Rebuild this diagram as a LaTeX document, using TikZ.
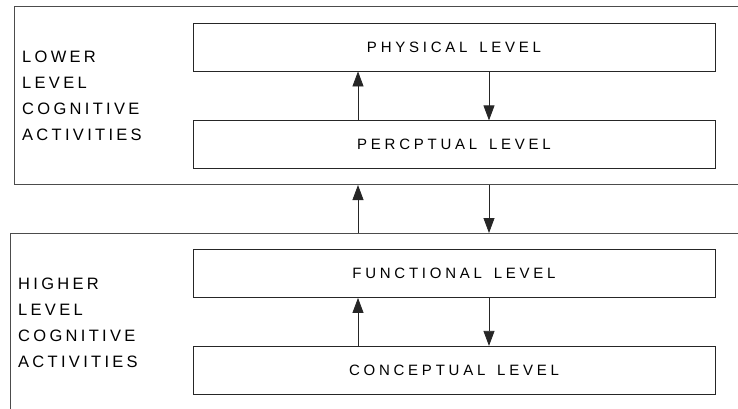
\documentclass[tikz,border=0pt]{standalone}
\usepackage{fontspec}
\newfontfamily\levelfont[LetterSpace=25, WordSpace=1.5]{Liberation Sans}
\newfontfamily\sidefont[LetterSpace=20]{Liberation Sans}
\usetikzlibrary{arrows.meta, positioning}

\begin{document}
\begin{tikzpicture}[
    x=1pt, y=-1pt,
    level/.style={draw=black!85, line width=0.8pt, minimum width=522pt, minimum height=48pt,
                  inner sep=0pt, text=black, font=\levelfont\fontsize{15}{26}\selectfont},
    group/.style={draw=black!70, line width=1pt, anchor=north west, minimum width=800pt,
                  inner sep=0pt},
    side/.style={anchor=west, align=left, inner sep=0pt, text=black,
                 font=\sidefont\fontsize{16.5}{26}\selectfont},
    arrow/.style={-{Triangle[length=15pt,width=11pt]}, line width=0.8pt, draw=black!85}
]
\useasboundingbox (0,0) rectangle (738,408);
\clip (0,0) rectangle (738,408);
\node[group, minimum height=178pt] (lower) at (14,6) {};
\node[group, minimum height=200pt] (higher) at (10,233) {};
\node[level] (physical) at (454,47) {PHYSICAL LEVEL};
\node[level, below=49pt of physical] (perceptual) {PERCPTUAL LEVEL};
\node[level] (functional) at (454,273.5) {FUNCTIONAL LEVEL};
\node[level, below=48pt of functional] (conceptual) {CONCEPTUAL LEVEL};
\node[side] (lowerlbl) at (22,96) {LOWER\\LEVEL\\COGNITIVE\\ACTIVITIES};
\node[side] (higherlbl) at (18,323) {HIGHER\\LEVEL\\COGNITIVE\\ACTIVITIES};
\coordinate (upx) at ([xshift=-96pt]perceptual.south);
\coordinate (downx) at ([xshift=35pt]perceptual.south);
\draw[arrow] ([xshift=-96pt]perceptual.north) -- ([xshift=-96pt]physical.south);
\draw[arrow] ([xshift=35pt]physical.south) -- ([xshift=35pt]perceptual.north);
\draw[arrow] (upx |- higher.north) -- (upx |- lower.south);
\draw[arrow] (downx |- lower.south) -- (downx |- higher.north);
\draw[arrow] ([xshift=-96pt]conceptual.north) -- ([xshift=-96pt]functional.south);
\draw[arrow] ([xshift=35pt]functional.south) -- ([xshift=35pt]conceptual.north);
\end{tikzpicture}
\end{document}
